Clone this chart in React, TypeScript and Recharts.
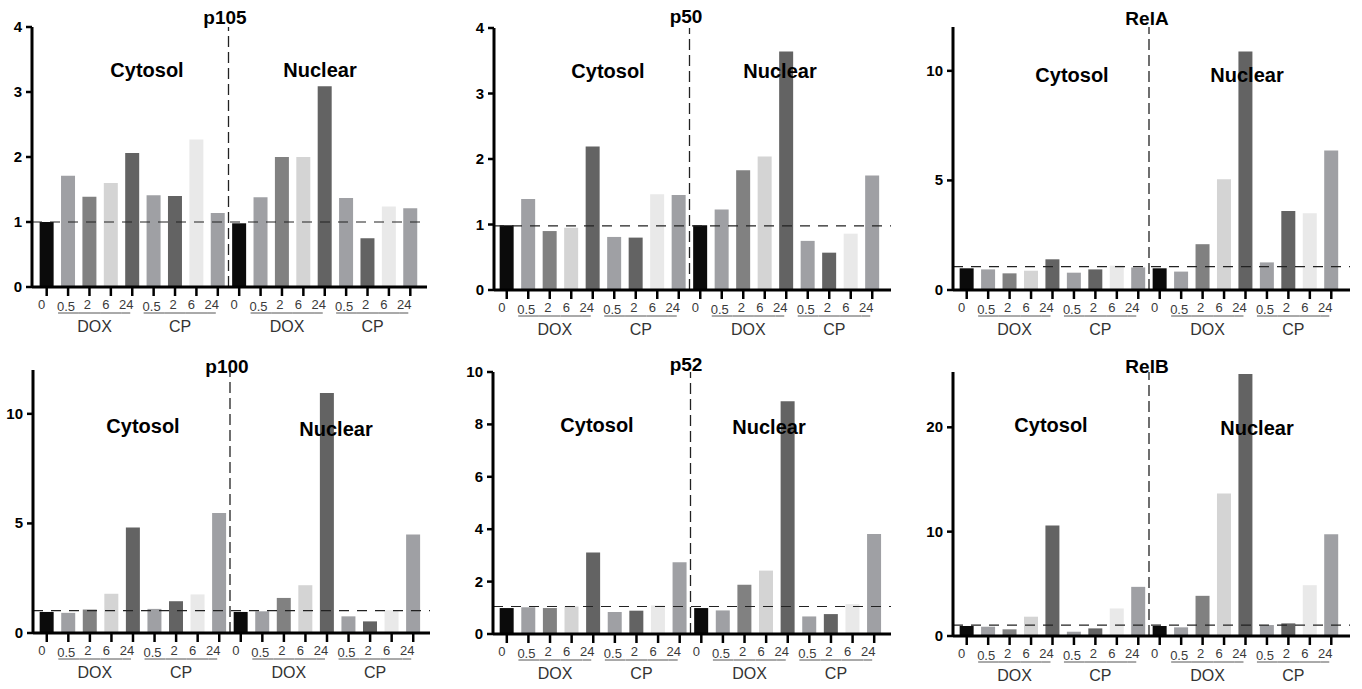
import { BarChart, Bar, XAxis, YAxis, Cell, ReferenceLine } from 'recharts'

// 18 lanes per panel: Cytosol (0, DOX 0.5/2/6/24, CP 0.5/2/6/24), then Nuclear (same)
const timeLabels = ['0', '0.5', '2', '6', '24', '0.5', '2', '6', '24', '0', '0.5', '2', '6', '24', '0.5', '2', '6', '24']
const treatments = ['', 'DOX', 'DOX', 'DOX', 'DOX', 'CP', 'CP', 'CP', 'CP']

const p105 = [1.0, 1.71, 1.39, 1.6, 2.06, 1.41, 1.4, 2.27, 1.14, 0.98, 1.38, 2.0, 2.0, 3.09, 1.37, 0.75, 1.24, 1.21]
const p50 = [0.99, 1.39, 0.9, 0.95, 2.19, 0.81, 0.8, 1.46, 1.45, 0.99, 1.23, 1.83, 2.04, 3.64, 0.75, 0.57, 0.86, 1.75]
const relA = [0.99, 0.94, 0.76, 0.88, 1.4, 0.79, 0.94, 1.11, 1.03, 0.99, 0.84, 2.09, 5.05, 10.88, 1.26, 3.61, 3.5, 6.36]
const p100 = [0.96, 0.92, 1.07, 1.79, 4.81, 1.1, 1.45, 1.76, 5.47, 0.96, 0.99, 1.6, 2.18, 10.95, 0.76, 0.53, 1.04, 4.5]
const p52 = [0.99, 1.02, 0.99, 1.05, 3.11, 0.84, 0.89, 1.09, 2.74, 0.99, 0.9, 1.88, 2.42, 8.88, 0.67, 0.76, 1.14, 3.82]
const relB = [0.96, 0.89, 0.64, 1.85, 10.6, 0.41, 0.73, 2.64, 4.71, 0.96, 0.83, 3.85, 13.66, 25.1, 1.05, 1.21, 4.87, 9.75]

const barColors = ['#0b0b0b', '#9fa0a4', '#818181', '#d4d4d4', '#636363', '#9fa0a4', '#636363', '#e9e9e9', '#9fa0a4']
const labelShift: Record<string, number> = { '0': -5, '0.5': -2, '2': -2, '6': -5, '24': -6 }
const FONT = 'Arial, "Liberation Sans", Helvetica, sans-serif'
const STEP = 21.4

const panels = [
  { title: 'p105', values: p105, max: 4, ticks: [0, 1, 2, 3, 4], col: 0, row: 0, margin: { top: 27, right: 27, bottom: 8, left: 2 }, pad: { left: 4, right: 6 },
    titleAt: [225, 24], cyto: [147, 77], nuc: [320, 77], ref: 1 },
  { title: 'p50', values: p50, max: 4, ticks: [0, 1, 2, 3, 4], col: 1, row: 0, margin: { top: 28, right: 17, bottom: 5, left: 10 }, pad: { left: 2, right: 8 },
    titleAt: [686, 23], cyto: [608, 78], nuc: [780, 78], ref: 0.98 },
  { title: 'RelA', values: relA, max: 12, ticks: [0, 5, 10], col: 2, row: 0, margin: { top: 27, right: 12, bottom: 5, left: 15 }, pad: { left: 3, right: 8 },
    titleAt: [1147, 25], cyto: [1072, 82], nuc: [1247, 82], ref: 1.07 },
  { title: 'p100', values: p100, max: 12, ticks: [0, 5, 10], col: 0, row: 1, margin: { top: 25, right: 24, bottom: 7, left: 3 }, pad: { left: 3, right: 6 },
    titleAt: [227, 373], cyto: [143, 433], nuc: [336, 436], ref: 1.02 },
  { title: 'p52', values: p52, max: 10, ticks: [0, 2, 4, 6, 8, 10], col: 1, row: 1, margin: { top: 27, right: 17, bottom: 6, left: 9 }, pad: { left: 3, right: 6 },
    titleAt: [686, 371], cyto: [597, 432], nuc: [769, 434], ref: 1.05 },
  { title: 'RelB', values: relB, max: 25.3, ticks: [0, 10, 20], col: 2, row: 1, margin: { top: 27, right: 12, bottom: 4, left: 15 }, pad: { left: 3, right: 8 },
    titleAt: [1147, 373], cyto: [1051, 432], nuc: [1257, 435], ref: 1.05 },
]

function TimeTick(props: any) {
  const { x, y, payload } = props
  const i = Number(payload.value)
  const pos = i % 9
  const lbl = timeLabels[i]
  const lineY = y + 15
  let seg: [number, number] | null = null
  if (pos === 1 || pos === 5) seg = [x - 10, x + STEP / 2]
  else if (pos === 4 || pos === 8) seg = [x - STEP / 2, x - 2]
  else if (pos !== 0) seg = [x - STEP / 2, x + STEP / 2]
  return (
    <g>
      <text x={x + labelShift[lbl]} y={y + (lbl === '0.5' ? 13 : 11)} textAnchor="middle" fontSize={13} fill="#3a3a3a" fontFamily={FONT}>
        {lbl}
      </text>
      {seg && <line x1={seg[0]} x2={seg[1]} y1={lineY} y2={lineY} stroke="#555" strokeWidth={1} />}
      {(pos === 2 || pos === 6) && (
        <text x={x + 5} y={y + 34} textAnchor="middle" fontSize={16} fill="#333" fontFamily={FONT}>
          {treatments[pos]}
        </text>
      )}
    </g>
  )
}

function ValueTick(props: any) {
  const { x, y, payload } = props
  return (
    <text x={x} y={y + 5} textAnchor="end" fontSize={15} fontWeight="bold" fill="#000" fontFamily={FONT}>
      {payload.value}
    </text>
  )
}

function Panel({ cfg }: { cfg: (typeof panels)[number] }) {
  const data = cfg.values.map((v, i) => ({ slot: i, value: v }))
  return (
    <div style={{ position: 'absolute', left: cfg.col * 454, top: cfg.row * 345 }}>
      <BarChart width={454} height={345} data={data} margin={cfg.margin} barCategoryGap="17%">
        <XAxis
          dataKey="slot"
          type="category"
          height={50}
          padding={cfg.pad}
          interval={0}
          tickSize={9}
          stroke="#000"
          axisLine={{ stroke: '#000', strokeWidth: 3 }}
          tickLine={{ stroke: '#000', strokeWidth: 2.5 }}
          tick={TimeTick}
        />
        <YAxis
          width={30}
          domain={[0, cfg.max]}
          ticks={cfg.ticks}
          allowDataOverflow
          tickSize={6}
          tickMargin={4}
          stroke="#000"
          axisLine={{ stroke: '#000', strokeWidth: 3 }}
          tickLine={{ stroke: '#000', strokeWidth: 2.5 }}
          tick={ValueTick}
        />
        <Bar dataKey="value" isAnimationActive={false}>
          {data.map((d) => (
            <Cell key={d.slot} fill={barColors[d.slot % 9]} />
          ))}
        </Bar>
        <ReferenceLine y={cfg.ref} stroke="#222" strokeWidth={1.2} strokeDasharray="10 8" />
        <ReferenceLine x={9} position="start" stroke="#222" strokeWidth={1.3} strokeDasharray="11 5" />
      </BarChart>
    </div>
  )
}

export default function App() {
  return (
    <div style={{ position: 'absolute', left: 0, top: 0, width: 1362, height: 689, background: '#fff', fontFamily: FONT }}>
      {panels.map((p) => (
        <Panel key={p.title} cfg={p} />
      ))}
      <svg width={1362} height={689} style={{ position: 'absolute', left: 0, top: 0, pointerEvents: 'none' }}>
        {panels.map((p) => (
          <g key={p.title} fontFamily={FONT} fontWeight={700} fill="#000" textAnchor="middle">
            <text x={p.titleAt[0]} y={p.titleAt[1]} fontSize={19}>{p.title}</text>
            <text x={p.cyto[0]} y={p.cyto[1]} fontSize={20}>Cytosol</text>
            <text x={p.nuc[0]} y={p.nuc[1]} fontSize={20}>Nuclear</text>
          </g>
        ))}
      </svg>
    </div>
  )
}
